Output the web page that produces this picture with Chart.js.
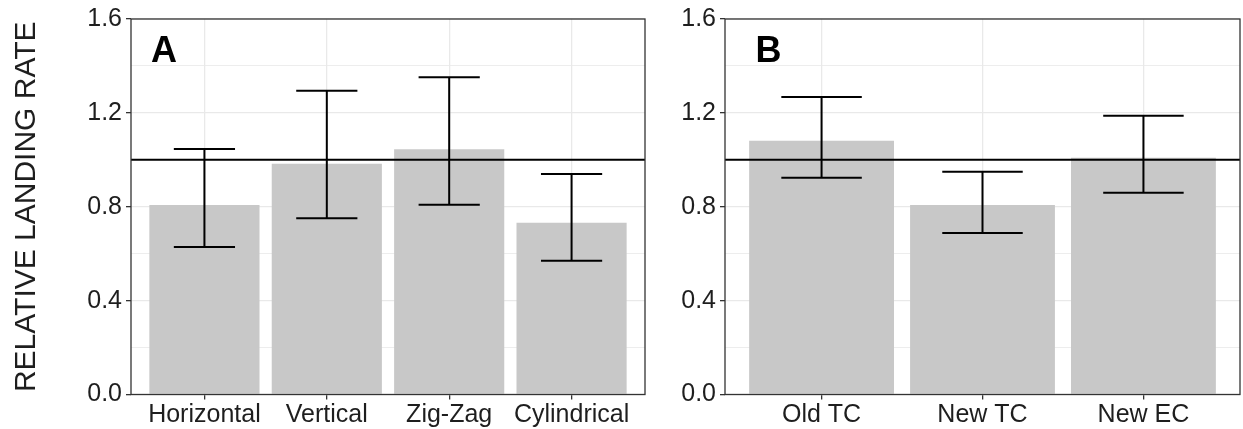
<!DOCTYPE html>
<html><head><meta charset="utf-8">
<script src="https://cdn.jsdelivr.net/npm/chart.js@4.4.1/dist/chart.umd.min.js"></script>
<style>
html,body{margin:0;padding:0;background:#fff;width:1243px;height:429px;overflow:hidden;}
#wa{position:absolute;left:0;top:0;width:660px;height:429px;}
#wb{position:absolute;left:660px;top:0;width:583px;height:429px;}
canvas{display:block;}
</style></head><body>
<div id="wa"><canvas id="ca" width="660" height="429"></canvas></div>
<div id="wb"><canvas id="cb" width="583" height="429"></canvas></div>
<script>
// ---- data ----
const categoriesA = ['Horizontal', 'Vertical', 'Zig-Zag', 'Cylindrical'];
const rateA = [0.807, 0.983, 1.045, 0.732];
const lowA  = [0.628, 0.751, 0.809, 0.570];
const highA = [1.046, 1.294, 1.352, 0.940];

const categoriesB = ['Old TC', 'New TC', 'New EC'];
const rateB = [1.081, 0.807, 1.009];
const lowB  = [0.924, 0.688, 0.860];
const highB = [1.268, 0.949, 1.188];

const yTickValues = [0, 0.4, 0.8, 1.2, 1.6];
const yTickLabels = ['0.0', '0.4', '0.8', '1.2', '1.6'];
const yMinorValues = [0.2, 0.6, 1.0, 1.4];
const referenceValue = 1.0;
const yAxisTitle = 'RELATIVE LANDING RATE';

// ---- styling ----
const FONT = '"Liberation Sans", Arial, Helvetica, sans-serif';
const BAR_COLOR = '#c8c8c8';
const GRID_COLOR = '#e9e9e9';
const FRAME_COLOR = '#333333';
const TEXT_COLOR = '#1e1e1e';

function isMajor(v) { return yTickValues.some(t => Math.abs(t - v) < 1e-9); }

function makePanel(canvasId, cats, rates, lows, highs, letter, cfg) {
  const n = cats.length;
  const idx = cats.map((c, i) => i);
  const extras = {
    id: 'extras' + letter,
    afterDatasetsDraw(chart) {
      const {ctx, chartArea, scales: {x, y}} = chart;
      ctx.save();
      ctx.strokeStyle = '#000';
      ctx.lineWidth = 2;
      // reference line
      const yr = y.getPixelForValue(referenceValue);
      ctx.beginPath();
      ctx.moveTo(chartArea.left, yr);
      ctx.lineTo(chartArea.right, yr);
      ctx.stroke();
      // error bars (cap width 0.5 category)
      const half = (x.getPixelForValue(1) - x.getPixelForValue(0)) * 0.25;
      idx.forEach(i => {
        const px = x.getPixelForValue(i);
        const yl = y.getPixelForValue(lows[i]);
        const yh = y.getPixelForValue(highs[i]);
        ctx.beginPath();
        ctx.moveTo(px, yl); ctx.lineTo(px, yh);
        ctx.moveTo(px - half, yl); ctx.lineTo(px + half, yl);
        ctx.moveTo(px - half, yh); ctx.lineTo(px + half, yh);
        ctx.stroke();
      });
      ctx.restore();
    },
    afterDraw(chart) {
      const {ctx, chartArea, scales: {x, y}} = chart;
      ctx.save();
      ctx.strokeStyle = FRAME_COLOR;
      ctx.lineWidth = 1.3;
      ctx.strokeRect(chartArea.left, chartArea.top, chartArea.right - chartArea.left, chartArea.bottom - chartArea.top);
      ctx.fillStyle = '#000';
      ctx.font = 'bold 36px ' + FONT;
      ctx.textAlign = 'center';
      ctx.textBaseline = 'middle';
      ctx.fillText(letter, x.getPixelForValue(-0.33), y.getPixelForValue(1.46));
      ctx.restore();
    }
  };
  return new Chart(document.getElementById(canvasId), {
    type: 'bar',
    data: {
      datasets: [{
        data: idx.map(i => ({x: i, y: rates[i]})),
        backgroundColor: BAR_COLOR,
        borderWidth: 0,
        barPercentage: 0.9,
        categoryPercentage: 1.0
      }]
    },
    options: {
      responsive: false,
      animation: false,
      devicePixelRatio: 1,
      layout: {padding: {left: 0, right: cfg.padRight, top: 19, bottom: 0}},
      plugins: {legend: {display: false}, tooltip: {enabled: false}},
      scales: {
        x: {
          type: 'linear',
          min: -0.6,
          max: n - 0.4,
          offset: false,
          afterBuildTicks: s => { s.ticks = idx.map(v => ({value: v})); },
          afterFit: s => { s.height = 34.5; },
          ticks: {
            autoSkip: false, maxRotation: 0, minRotation: 0,
            callback: v => cats[v],
            font: {family: FONT, size: 25},
            color: TEXT_COLOR,
            padding: 1
          },
          grid: {offset: false, color: GRID_COLOR, lineWidth: 1.3, tickLength: 5, tickColor: FRAME_COLOR, tickWidth: 1.3},
          border: {display: false}
        },
        y: {
          min: 0, max: 1.6,
          afterBuildTicks: s => { s.ticks = yTickValues.concat(yMinorValues).sort((a, b) => a - b).map(v => ({value: v})); },
          afterFit: s => { s.width = cfg.yWidth; },
          ticks: {
            autoSkip: false,
            callback: v => { const k = yTickValues.findIndex(t => Math.abs(t - v) < 1e-9); return k >= 0 ? yTickLabels[k] : ''; },
            font: {family: FONT, size: 25},
            color: TEXT_COLOR,
            padding: 4
          },
          grid: {
            color: GRID_COLOR,
            lineWidth: c => (c.tick && isMajor(c.tick.value)) ? 1.3 : 0.8,
            tickLength: 5,
            tickColor: c => (c.tick && isMajor(c.tick.value)) ? FRAME_COLOR : 'rgba(0,0,0,0)',
            tickWidth: 1.3
          },
          border: {display: false},
          title: {
            display: cfg.showTitle,
            text: yAxisTitle,
            font: {family: FONT, size: 30},
            color: TEXT_COLOR,
            padding: {top: 9, bottom: 0}
          }
        }
      }
    },
    plugins: [extras]
  });
}

makePanel('ca', categoriesA, rateA, lowA, highA, 'A', {padRight: 15, yWidth: 131, showTitle: true});
makePanel('cb', categoriesB, rateB, lowB, highB, 'B', {padRight: 3, yWidth: 65, showTitle: false});
</script>
</body></html>
